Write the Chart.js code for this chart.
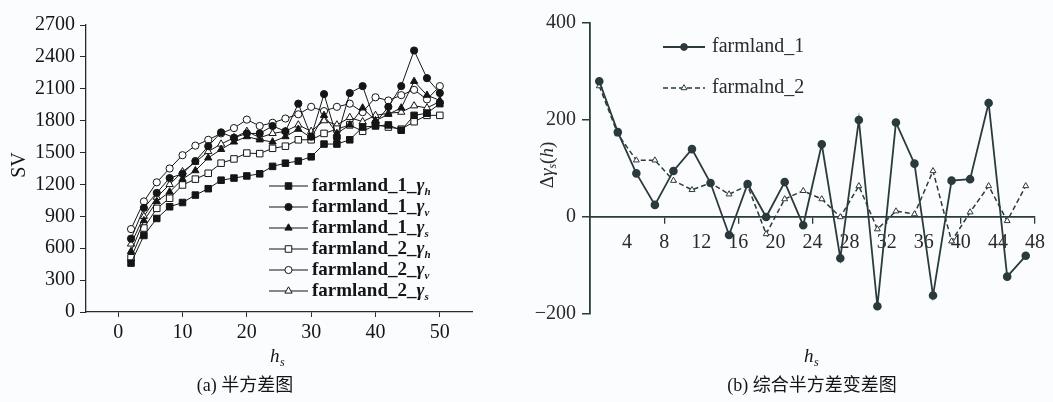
<!DOCTYPE html>
<html><head><meta charset="utf-8">
<script src="https://cdn.jsdelivr.net/npm/chart.js@4.4.1/dist/chart.umd.min.js"></script>
<style>
html,body{margin:0;padding:0;background:#fbfcfd;}
#wrap{position:relative;width:1053px;height:402px;overflow:hidden;background:#fbfcfd;}
#c1{position:absolute;left:0;top:0;}
#c2{position:absolute;left:530px;top:0;}
</style></head><body>
<div id="wrap"><canvas id="c1" width="530" height="402" style="width:530px;height:402px"></canvas><canvas id="c2" width="523" height="402" style="width:523px;height:402px"></canvas></div>
<script>
// ---------- Data: panel (a) ----------
const lagsA = [2,4,6,8,10,12,14,16,18,20,22,24,26,28,30,32,34,36,38,40,42,44,46,48,50];
const f1_h = [460,720,880,990,1030,1100,1160,1240,1260,1280,1300,1370,1400,1420,1460,1580,1580,1620,1740,1750,1760,1710,1850,1870,1960];
const f1_v = [690,980,1120,1260,1300,1420,1560,1690,1640,1680,1680,1750,1700,1960,1650,2050,1640,2060,2125,1780,1930,2125,2460,2200,2060];
const f1_s = [570,860,1040,1130,1250,1330,1450,1530,1600,1650,1620,1600,1650,1720,1640,1850,1680,1760,1920,1800,1860,1920,2170,2040,1990];
const f2_h = [510,790,975,1070,1195,1250,1305,1400,1440,1495,1490,1540,1560,1620,1620,1680,1720,1760,1700,1760,1740,1720,1790,1850,1850];
const f2_v = [780,1040,1220,1350,1475,1565,1620,1680,1730,1810,1750,1780,1820,1860,1930,1890,1930,1960,1880,2020,1990,2040,2090,2000,2125];
const f2_s = [640,900,1080,1200,1320,1410,1510,1580,1640,1700,1640,1680,1700,1760,1700,1800,1760,1830,1790,1850,1870,1880,1940,1920,1980];
const namesA = ['farmland_1_','farmland_1_','farmland_1_','farmland_2_','farmland_2_','farmland_2_'];
const subsA = ['h','v','s','h','v','s'];
const yTicksA = [0,300,600,900,1200,1500,1800,2100,2400,2700];
const xTicksA = [0,10,20,30,40,50];

// ---------- Data: panel (b) ----------
const lagsB = [1,3,5,7,9,11,13,15,17,19,21,23,25,27,29,31,33,35,37,39,41,43,45,47];
const d1 = [280,175,90,25,95,140,70,-37,68,0,72,-17,150,-85,200,-184,195,110,-162,75,78,235,-123,-80];
const d2 = [270,171,117,117,75,56,70,47,65,-35,37,54,37,0,64,-25,12,6,95,-50,10,64,-8,64];
const namesB = ['farmland_1','farmalnd_2'];
const yTicksB = [-200,0,200,400];
const xTicksB = [4,8,12,16,20,24,28,32,36,40,44,48];

const SERIF = '"Liberation Serif","DejaVu Serif",serif';
const CJK = '"Liberation Serif","Noto Sans CJK SC",serif';
const INK = '#151515';
const AXA = '#2a2a2a';
const AXB = '#2b3a3d';

function marker(ctx, style, x, y, r, fill, stroke){
  ctx.save();
  ctx.fillStyle = fill; ctx.strokeStyle = stroke; ctx.lineWidth = 1;
  ctx.beginPath();
  if (style === 'circle') { ctx.arc(x, y, r, 0, Math.PI*2); }
  else if (style === 'rect') { const s = r*Math.SQRT1_2; ctx.rect(x-s, y-s, 2*s, 2*s); }
  else if (style === 'triangle') {
    const rad = r; ctx.moveTo(x, y - rad);
    ctx.lineTo(x + rad*0.866, y + rad*0.5); ctx.lineTo(x - rad*0.866, y + rad*0.5); ctx.closePath();
  }
  ctx.fill(); ctx.stroke();
  ctx.restore();
}

function subText(ctx, x, y, base, sym, sub, size, weight){
  const wt = weight ? weight + ' ' : '';
  ctx.textBaseline = 'middle'; ctx.textAlign = 'left';
  ctx.font = wt + size + 'px ' + SERIF;
  ctx.fillText(base, x, y); x += ctx.measureText(base).width;
  if (sym) { ctx.font = 'italic ' + wt + size + 'px ' + SERIF; ctx.fillText(sym, x, y); x += ctx.measureText(sym).width; }
  if (sub) { ctx.font = 'italic ' + wt + Math.round(size*0.6) + 'px ' + SERIF; ctx.fillText(sub, x, y + size*0.3); x += ctx.measureText(sub).width; }
  return x;
}

const stylesA = [
  {ps:'rect', fill:INK, r:4.6},
  {ps:'circle', fill:INK, r:3.6},
  {ps:'triangle', fill:INK, r:4.2},
  {ps:'rect', fill:'#ffffff', r:4.6},
  {ps:'circle', fill:'#ffffff', r:3.6},
  {ps:'triangle', fill:'#ffffff', r:4.2}
];
const seriesA = [f1_h, f1_v, f1_s, f2_h, f2_v, f2_s];

const annotA = {
  id:'annotA',
  afterDraw(chart){
    const ctx = chart.ctx; ctx.save();
    // legend
    const rows = [186,207,228,249,270,291];
    stylesA.forEach((st,i)=>{
      const y = rows[i];
      ctx.strokeStyle = INK; ctx.lineWidth = 1;
      ctx.beginPath(); ctx.moveTo(269, y); ctx.lineTo(308, y); ctx.stroke();
      marker(ctx, st.ps, 288.5, y, st.r, st.fill, INK);
      ctx.fillStyle = INK;
      subText(ctx, 312, y, namesA[i], 'γ', subsA[i], 19, 'bold');
    });
    // axis titles
    ctx.fillStyle = INK;
    ctx.save(); ctx.translate(20, 165); ctx.rotate(-Math.PI/2);
    ctx.textAlign='center'; ctx.textBaseline='middle'; ctx.font = '20px ' + SERIF;
    ctx.fillText('SV', 0, 0); ctx.restore();
    ctx.font = 'italic 19px ' + SERIF;
    ctx.textAlign='left'; ctx.textBaseline='middle';
    ctx.fillText('h', 270, 357);
    ctx.font = 'italic 12px ' + SERIF; ctx.fillText('s', 280, 363);
    ctx.font = '18px ' + CJK; ctx.textAlign='center';
    ctx.fillText('(a) 半方差图', 245, 386);
    ctx.restore();
  }
};

new Chart(document.getElementById('c1'), {
  type:'line',
  data:{
    datasets: seriesA.map((vals,i)=>({
      label: namesA[i] + subsA[i],
      data: lagsA.map((x,j)=>({x:x, y:vals[j]})),
      borderColor: INK, borderWidth: 1,
      pointStyle: stylesA[i].ps, pointRadius: stylesA[i].r,
      pointBackgroundColor: stylesA[i].fill, pointBorderColor: INK, pointBorderWidth: 1,
      tension: 0, fill:false
    }))
  },
  options:{
    responsive:false, animation:false, devicePixelRatio:1,
    layout:{padding:{left:0,right:58,top:25,bottom:0}},
    plugins:{legend:{display:false}, tooltip:{enabled:false}},
    scales:{
      x:{type:'linear', min:-5, max:55,
        afterBuildTicks: s => { s.ticks = xTicksA.map(v=>({value:v})); },
        afterFit: s => { s.height = 90; },
        grid:{drawOnChartArea:false, tickLength:5, color:AXA, lineWidth:1},
        border:{color:AXA, width:1.3},
        ticks:{font:{family:SERIF, size:20}, color:INK, padding:4, maxRotation:0, callback: v => String(v)}
      },
      y:{type:'linear', min:0, max:2700,
        afterBuildTicks: s => { s.ticks = yTicksA.map(v=>({value:v})); },
        afterFit: s => { s.width = 86; },
        grid:{drawOnChartArea:false, tickLength:6, color:AXA, lineWidth:1},
        border:{color:AXA, width:1.3},
        ticks:{font:{family:SERIF, size:20}, color:INK, padding:5, callback: v => String(v)}
      }
    }
  },
  plugins:[annotA]
});

const annotB = {
  id:'annotB',
  afterDraw(chart){
    const ctx = chart.ctx; ctx.save();
    const ox = -530;
    // legend
    const rows = [47,88];
    ctx.strokeStyle = AXB; ctx.lineWidth = 1.8;
    ctx.beginPath(); ctx.moveTo(663+ox, rows[0]); ctx.lineTo(705+ox, rows[0]); ctx.stroke();
    marker(ctx, 'circle', 684+ox, rows[0], 3.4, AXB, AXB);
    ctx.lineWidth = 1.5; ctx.setLineDash([5,3]);
    ctx.beginPath(); ctx.moveTo(663+ox, rows[1]); ctx.lineTo(705+ox, rows[1]); ctx.stroke();
    ctx.setLineDash([]);
    marker(ctx, 'triangle', 684+ox, rows[1], 3.4, '#ffffff', AXB);
    ctx.fillStyle = '#2a2a2a';
    ctx.font = '20px ' + SERIF; ctx.textAlign='left'; ctx.textBaseline='middle';
    ctx.fillText(namesB[0], 712+ox, rows[0]);
    ctx.fillText(namesB[1], 712+ox, rows[1]);
    // y title  Δγs(h)
    ctx.save(); ctx.translate(548+ox, 165); ctx.rotate(-Math.PI/2);
    const parts = [['Δ','19px '],['γ','italic 19px '],['s','italic 12px '],['(','19px '],['h','italic 19px '],[')','19px ']];
    let w = 0;
    parts.forEach(p=>{ ctx.font = p[1]+SERIF; w += ctx.measureText(p[0]).width; });
    let x = -w/2;
    ctx.textBaseline='middle'; ctx.textAlign='left';
    parts.forEach(p=>{ ctx.font = p[1]+SERIF; ctx.fillText(p[0], x, p[0]==='s'?5:0); x += ctx.measureText(p[0]).width; });
    ctx.restore();
    // x title
    ctx.fillStyle = INK;
    ctx.font = 'italic 19px ' + SERIF;
    ctx.fillText('h', 804+ox, 357);
    ctx.font = 'italic 12px ' + SERIF; ctx.fillText('s', 814+ox, 363);
    ctx.font = '18px ' + CJK; ctx.textAlign='center';
    ctx.fillText('(b) 综合半方差变差图', 812+ox, 386);
    ctx.restore();
  }
};

new Chart(document.getElementById('c2'), {
  type:'line',
  data:{
    datasets:[
      {label:namesB[0], data: lagsB.map((x,j)=>({x:x,y:d1[j]})), borderColor:AXB, borderWidth:1.8,
       pointStyle:'circle', pointRadius:3.4, pointBackgroundColor:AXB, pointBorderColor:AXB, tension:0},
      {label:namesB[1], data: lagsB.map((x,j)=>({x:x,y:d2[j]})), borderColor:AXB, borderWidth:1.5, borderDash:[5,3],
       pointStyle:'triangle', pointRadius:3.4, pointBackgroundColor:'#ffffff', pointBorderColor:AXB, pointBorderWidth:1, tension:0}
    ]
  },
  options:{
    responsive:false, animation:false, devicePixelRatio:1,
    layout:{padding:{left:0,right:16,top:23,bottom:88}},
    plugins:{legend:{display:false}, tooltip:{enabled:false}},
    scales:{
      x:{type:'linear', min:0, max:48, position:{y:0},
        afterBuildTicks: s => { s.ticks = [0].concat(xTicksB).map(v=>({value:v})); },
        grid:{drawOnChartArea:false, tickLength:6, lineWidth:1.3,
          tickColor: c => (c.tick && c.tick.value > 0 && c.tick.value % 8 === 0) ? AXB : 'rgba(0,0,0,0)'},
        border:{color:AXB, width:1.8},
        ticks:{font:{family:SERIF, size:20}, color:'#2a2a2a', padding:8, maxRotation:0,
          callback: v => v === 0 ? '' : String(v)}
      },
      y:{type:'linear', min:-200, max:400,
        afterBuildTicks: s => { s.ticks = yTicksB.map(v=>({value:v})); },
        afterFit: s => { s.width = 60; },
        grid:{drawOnChartArea:false, tickLength:8, color:AXB, lineWidth:1.5},
        border:{color:AXB, width:1.8},
        ticks:{font:{family:SERIF, size:20}, color:'#2a2a2a', padding:6,
          callback: v => v < 0 ? '−' + Math.abs(v) : String(v)}
      }
    }
  },
  plugins:[annotB]
});
</script>
</body></html>
